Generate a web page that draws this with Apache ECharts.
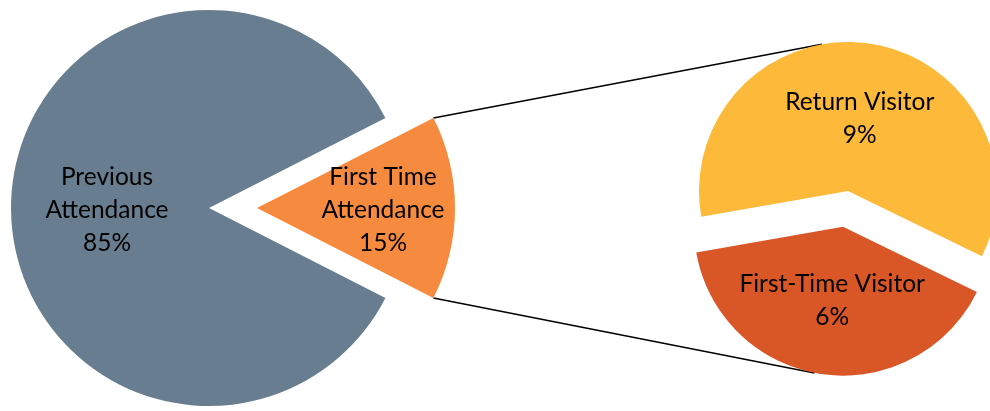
<!DOCTYPE html>
<html>
<head>
<meta charset="utf-8">
<script src="https://cdn.jsdelivr.net/npm/echarts@6/dist/echarts.min.js"></script>
<style>html,body{margin:0;padding:0;background:#fff}#c{width:990px;height:411px}</style>
</head>
<body>
<div id="c"></div>
<script>
// Data
const mainCategories = ['Previous\nAttendance', 'First Time\nAttendance'];
const mainValues = [85, 15];
const subCategories = ['Return Visitor', 'First-Time Visitor'];
const subValues = [9, 6];

// Layout / style
const mainColors = ['#687d8f', '#f68b3f'];
const subColors = ['#fcb93a', '#d95627'];
const mainCenter = [209, 208], mainR = 198, mainOffset = 48;
const subCenter = [848, 191], subR = 149, subOffset = 36;
const FONT = 'Lato';

const mainTotal = mainValues.reduce((a, b) => a + b, 0);
const otherHalf = mainValues[1] / mainTotal * 180; // half-angle of exploded slice (deg)
const mainStart = 360 - otherHalf;
const subTotal = subValues.reduce((a, b) => a + b, 0);
const subStart = 190;

const chart = echarts.init(document.getElementById('c'), null, {renderer: 'canvas'});

const labelStyle = {
  show: true, position: 'inside', formatter: '{b}\n{c}%',
  fontFamily: FONT, fontSize: 24.5, lineHeight: 33, color: '#000', align: 'center'
};

// connector endpoints (derived from slice geometry)
const rad = d => d * Math.PI / 180;
const ox = mainCenter[0] + mainOffset;
const oy = mainCenter[1];
const p1 = [ox + mainR * Math.cos(rad(otherHalf)), oy - mainR * Math.sin(rad(otherHalf))];
const p2 = [ox + mainR * Math.cos(rad(otherHalf)), oy + mainR * Math.sin(rad(otherHalf))];
const q1 = [subCenter[0] + subR * Math.cos(rad(100)), subCenter[1] - subR * Math.sin(rad(100))];
const subBis = subStart - subValues[0] / subTotal * 360 - subValues[1] / subTotal * 180;
const sc = [subCenter[0] + subOffset * Math.cos(rad(subBis)), subCenter[1] - subOffset * Math.sin(rad(subBis))];
const q2 = [sc[0] + subR * Math.cos(rad(259)), sc[1] - subR * Math.sin(rad(259))];

const mainShift = [{dx: 0, dy: 2}, {dx: 24, dy: 2}];
const subShift = [{dx: 1, dy: 4}, {dx: 0, dy: -3}];

chart.setOption({
  animation: false,
  series: [
    {
      type: 'pie', center: mainCenter, radius: mainR, startAngle: mainStart, clockwise: true,
      selectedMode: 'single', selectedOffset: mainOffset,
      emphasis: {disabled: true}, labelLine: {show: false},
      label: labelStyle,
      labelLayout: p => mainShift[p.dataIndex],
      data: mainCategories.map((n, i) => ({
        name: n, value: mainValues[i], selected: i === 1,
        itemStyle: {color: mainColors[i]}
      }))
    },
    {
      type: 'pie', center: subCenter, radius: subR, startAngle: subStart, clockwise: true,
      selectedMode: 'single', selectedOffset: subOffset,
      emphasis: {disabled: true}, labelLine: {show: false},
      label: labelStyle,
      labelLayout: p => subShift[p.dataIndex],
      data: subCategories.map((n, i) => ({
        name: n, value: subValues[i], selected: i === 1,
        itemStyle: {color: subColors[i]}
      }))
    }
  ],
  graphic: [
    {type: 'line', shape: {x1: p1[0], y1: p1[1], x2: q1[0], y2: q1[1]}, style: {stroke: '#000', lineWidth: 1.5}},
    {type: 'line', shape: {x1: p2[0], y1: p2[1], x2: q2[0], y2: q2[1]}, style: {stroke: '#000', lineWidth: 1.5}}
  ]
});
</script>
</body>
</html>
